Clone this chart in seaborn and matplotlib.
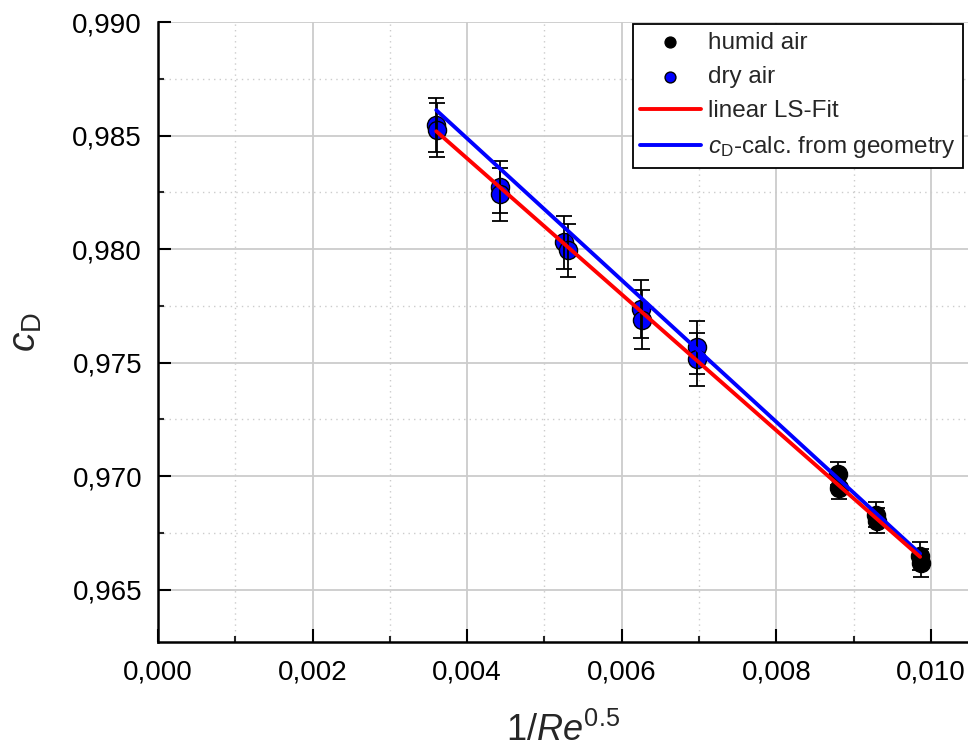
import numpy as np
import pandas as pd
import matplotlib
matplotlib.use("Agg")
import matplotlib.pyplot as plt
import seaborn as sns

dry_x = [0.00360, 0.00361, 0.00442, 0.00443, 0.00525, 0.00530, 0.00625, 0.00626, 0.00697, 0.00698]
dry_cd = [0.98546, 0.98524, 0.98273, 0.98242, 0.98030, 0.97995, 0.97735, 0.97690, 0.97567, 0.97514]
dry_err = [0.00118, 0.00118, 0.00116, 0.00116, 0.00117, 0.00117, 0.00128, 0.00128, 0.00118, 0.00118]

humid_x = [0.00880, 0.00881, 0.00929, 0.00930, 0.00986, 0.00987]
humid_cd = [0.97011, 0.96950, 0.96831, 0.96804, 0.96650, 0.96619]
humid_err = [0.00050, 0.00050, 0.00055, 0.00055, 0.00062, 0.00062]

# Geraden
line_x = [0.00360, 0.00986]
fit_cd = [0.98519, 0.96645]
geom_cd = [0.98612, 0.96659]

x_ticks = [0.000, 0.002, 0.004, 0.006, 0.008, 0.010]
y_ticks = [0.965, 0.970, 0.975, 0.980, 0.985, 0.990]

sns.set_theme(style="white")
plt.rcParams['font.family'] = ['Liberation Sans', 'DejaVu Sans']
plt.rcParams['mathtext.fontset'] = 'custom'
plt.rcParams['mathtext.rm'] = 'Liberation Sans'
plt.rcParams['mathtext.it'] = 'Liberation Sans:italic'
plt.rcParams['mathtext.bf'] = 'Liberation Sans:bold'

df_dry = pd.DataFrame({'x': dry_x, 'cd': dry_cd, 'err': dry_err})
df_humid = pd.DataFrame({'x': humid_x, 'cd': humid_cd, 'err': humid_err})
df_lines = pd.DataFrame({'x': line_x, 'fit': fit_cd, 'geom': geom_cd})

fig = plt.figure(figsize=(9.68, 7.51), dpi=100)
ax = fig.add_axes([0.1632, 0.1451, 0.8368, 0.8256])

sns.scatterplot(data=df_humid, x='x', y='cd', ax=ax, color='black', edgecolor='black',
                s=170, linewidth=1, label='humid air', zorder=3)
sns.scatterplot(data=df_dry, x='x', y='cd', ax=ax, color='#0000ff', edgecolor='black',
                s=170, linewidth=1, label='dry air', zorder=3)
for d in (df_humid, df_dry):
    ax.errorbar(d['x'], d['cd'], yerr=d['err'], fmt='none', ecolor='black',
                elinewidth=1.3, capsize=5.5, capthick=1.3, zorder=4)
sns.lineplot(data=df_lines, x='x', y='geom', ax=ax, color='#0000ff', linewidth=2.8,
             label=r'$c_\mathrm{D}$-calc. from geometry', zorder=5)
sns.lineplot(data=df_lines, x='x', y='fit', ax=ax, color='#ff0000', linewidth=2.8,
             label='linear LS-Fit', zorder=6)

ax.set_xlim(0, 0.01048)
ax.set_ylim(0.9627, 0.990)
ax.set_xticks(x_ticks)
ax.set_yticks(y_ticks)
ax.set_xticks(np.arange(0.001, 0.0105, 0.002), minor=True)
ax.set_yticks([0.9675, 0.9725, 0.9775, 0.9825, 0.9875], minor=True)
ax.set_xticklabels([f"{v:.3f}".replace('.', ',') for v in x_ticks])
ax.set_yticklabels([f"{v:.3f}".replace('.', ',') for v in y_ticks])

ax.grid(which='major', color='#cccccc', linewidth=1.3, linestyle='-')
ax.grid(which='minor', color='#cccccc', linewidth=1.0, linestyle=(0, (1, 3)))
ax.set_axisbelow(True)

for s in ['top', 'right']:
    ax.spines[s].set_visible(False)
for s in ['left', 'bottom']:
    ax.spines[s].set_color('black')
    ax.spines[s].set_linewidth(1.8)

ax.tick_params(which='major', direction='in', length=9.5, width=1.5, labelsize=20,
               left=True, bottom=True, colors='black')
ax.tick_params(which='minor', direction='in', length=4, width=1.5, left=True, bottom=True)
ax.tick_params(axis='x', which='major', pad=12.5)
ax.tick_params(axis='y', which='major', pad=11.5)

ax.set_xlabel(r'$1/\mathit{Re}^{0.5}$', fontsize=26, labelpad=20)
ax.set_ylabel(r'$c_\mathrm{D}$', fontsize=28, labelpad=20)

handles, labels = ax.get_legend_handles_labels()
order = [labels.index(l) for l in ['humid air', 'dry air', 'linear LS-Fit',
                                   r'$c_\mathrm{D}$-calc. from geometry']]
leg = ax.legend([handles[i] for i in order], [labels[i] for i in order],
                loc='upper right', bbox_to_anchor=(0.997, 1.0), fontsize=17.5,
                frameon=True, fancybox=False, framealpha=1, edgecolor='black',
                borderaxespad=0.1, handlelength=2.5, handletextpad=0.3,
                labelspacing=0.5, markerscale=0.6, borderpad=0.3)
leg.get_frame().set_linewidth(1.3)

plt.savefig('out.png', dpi=100)
